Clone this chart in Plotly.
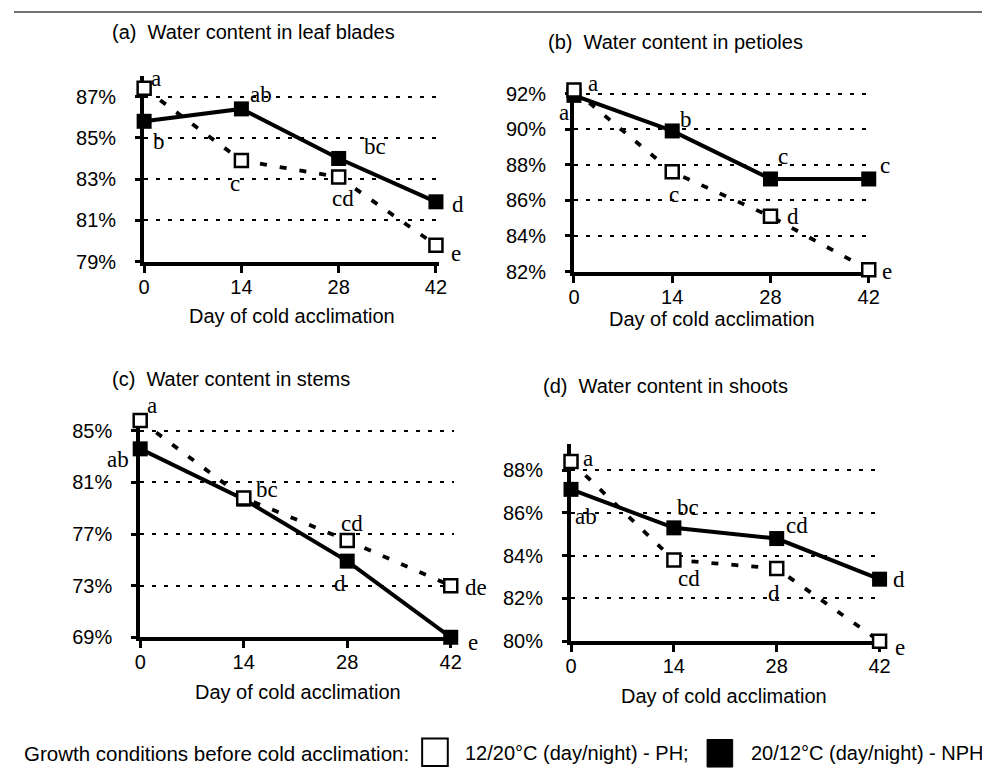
import plotly.graph_objects as go

# ---------------- data ----------------
days = [0, 14, 28, 42]
x_ticks = [0, 14, 28, 42]

titles = ["(a)  Water content in leaf blades", "(b)  Water content in petioles",
          "(c)  Water content in stems", "(d)  Water content in shoots"]
x_title = "Day of cold acclimation"

a_ph = [87.4, 83.9, 83.1, 79.8]
a_nph = [85.8, 86.4, 84.0, 81.9]
a_ph_letters = ["a", "c", "cd", "e"]
a_nph_letters = ["b", "ab", "bc", "d"]
a_ticks = [79, 81, 83, 85, 87]

b_ph = [92.2, 87.6, 85.1, 82.1]
b_nph = [91.9, 89.9, 87.2, 87.2]
b_ph_letters = ["a", "c", "d", "e"]
b_nph_letters = ["a", "b", "c", "c"]
b_ticks = [82, 84, 86, 88, 90, 92]

c_ph = [85.8, 79.8, 76.5, 73.0]
c_nph = [83.6, 79.7, 74.9, 69.0]
c_ph_letters = ["a", "bc", "cd", "de"]
c_nph_letters = ["ab", "", "d", "e"]
c_ticks = [69, 73, 77, 81, 85]

d_ph = [88.4, 83.8, 83.4, 80.0]
d_nph = [87.1, 85.3, 84.8, 82.9]
d_ph_letters = ["a", "cd", "d", "e"]
d_nph_letters = ["ab", "bc", "cd", "d"]
d_ticks = [80, 82, 84, 86, 88]

legend_title = "Growth conditions before cold acclimation:"
ph_name = "12/20°C (day/night) - PH;"
nph_name = "20/12°C (day/night) - NPH"

# ---------------- layout helpers ----------------
W, H = 990, 772
def fx(p): return p / W
def fy(p): return 1 - p / H

SANS = "Liberation Sans, Arial, sans-serif"
SERIF = "Liberation Serif, Times New Roman, serif"

panels = [
    dict(ph=a_ph, nph=a_nph, phl=a_ph_letters, nphl=a_nph_letters, ticks=a_ticks,
         x0=132, x42=428, yA=(79, 256), yB=(87, 88), yr=[79, 88],
         title_pos=(97, 22), xt_pos=(282, 311),
         ph_off=[(12, -10), (-6, 23), (4, 21), (20, 8)],
         nph_off=[(15, 20), (20, -14), (36, -12), (22, 3)]),
    dict(ph=b_ph, nph=b_nph, phl=b_ph_letters, nphl=b_nph_letters, ticks=b_ticks,
         x0=568, x42=867, yA=(82, 266), yB=(92, 85), yr=[82, 92.5],
         title_pos=(540, 33), xt_pos=(708, 314),
         ph_off=[(19, -7), (2, 23), (23, 0), (18, 2)],
         nph_off=[(-10, 17), (14, -11), (13, -22), (16, -13)]),
    dict(ph=c_ph, nph=c_nph, phl=c_ph_letters, nphl=c_nph_letters, ticks=c_ticks,
         x0=128, x42=443, yA=(69, 638), yB=(85, 428), yr=[69, 86.2],
         title_pos=(97, 375), xt_pos=(288, 694),
         ph_off=[(12, -15), (23, -8), (5, -17), (25, 2)],
         nph_off=[(-22, 11), (0, 0), (-7, 22), (22, 5)]),
    dict(ph=d_ph, nph=d_nph, phl=d_ph_letters, nphl=d_nph_letters, ticks=d_ticks,
         x0=565, x42=878, yA=(80, 642), yB=(88, 468), yr=[80, 89.2],
         title_pos=(535, 382), xt_pos=(720, 698),
         ph_off=[(17, -3), (15, 19), (-3, 25), (20, 6)],
         nph_off=[(15, 27), (14, -20), (20, -13), (19, 0)]),
]

XR = [0, 42.5]
fig = go.Figure()
annotations = []
layout_axes = {}

for i, p in enumerate(panels):
    k = "" if i == 0 else str(i + 1)
    xref, yref = "x" + k, "y" + k
    ppd = (p["x42"] - p["x0"]) / 42.0
    xd = [fx(p["x0"]), fx(p["x0"] + XR[1] * ppd)]
    (va, pa), (vb, pb) = p["yA"], p["yB"]
    ppv = (pa - pb) / (vb - va)
    ybot = pa + (va - p["yr"][0]) * ppv
    ytop = pa - (p["yr"][1] - va) * ppv
    yd = [fy(ybot), fy(ytop)]

    layout_axes["xaxis" + k] = dict(
        domain=xd, range=XR, anchor=yref, tickvals=x_ticks, ticktext=[str(t) for t in x_ticks],
        showline=True, linewidth=4, linecolor="black", showgrid=False, zeroline=False,
        ticks="outside", ticklen=7, tickwidth=3, tickcolor="black", ticklabelstandoff=-3,
        tickfont=dict(family=SANS, size=20, color="black"), layer="below traces")
    layout_axes["yaxis" + k] = dict(
        domain=yd, range=p["yr"], anchor=xref, tickvals=p["ticks"],
        ticktext=[f"{t}%" for t in p["ticks"]],
        showline=True, linewidth=4, linecolor="black", zeroline=False,
        showgrid=True, gridcolor="black", gridwidth=1.6, griddash="4px,8px",
        ticks="outside", ticklen=5, tickwidth=3, tickcolor="black", ticklabelstandoff=15,
        tickfont=dict(family=SANS, size=20, color="black"), layer="below traces")

    fig.add_trace(go.Scatter(
        x=days, y=p["nph"], xaxis=xref, yaxis=yref, mode="lines+markers", showlegend=False,
        line=dict(color="black", width=4),
        marker=dict(symbol="square", size=15, color="black"), cliponaxis=False))
    fig.add_trace(go.Scatter(
        x=days, y=p["ph"], xaxis=xref, yaxis=yref, mode="lines+markers", showlegend=False,
        line=dict(color="black", width=3.8, dash="7px,13px"),
        marker=dict(symbol="square", size=13, color="white", line=dict(color="black", width=2.5)),
        cliponaxis=False))

    for vals, letters, offs in ((p["ph"], p["phl"], p["ph_off"]), (p["nph"], p["nphl"], p["nph_off"])):
        for d, v, lab, (dx, dy) in zip(days, vals, letters, offs):
            if not lab:
                continue
            annotations.append(dict(
                x=d, y=v, xref=xref, yref=yref, text=lab, showarrow=False,
                xshift=dx, yshift=-dy, xanchor="center", yanchor="middle",
                font=dict(family=SERIF, size=23, color="black")))

    tx, ty = p["title_pos"]
    annotations.append(dict(x=fx(tx), y=fy(ty), xref="paper", yref="paper", text=titles[i],
                            showarrow=False, xanchor="left", yanchor="middle",
                            font=dict(family=SANS, size=20, color="black")))
    ax, ay = p["xt_pos"]
    annotations.append(dict(x=fx(ax), y=fy(ay), xref="paper", yref="paper", text=x_title,
                            showarrow=False, xanchor="center", yanchor="middle",
                            font=dict(family=SANS, size=20, color="black")))

# ---------------- legend row ----------------
LY = 756
annotations.append(dict(x=fx(8), y=fy(LY), xref="paper", yref="paper", text=legend_title,
                        showarrow=False, xanchor="left", yanchor="middle",
                        font=dict(family=SANS, size=20.5, color="black")))
annotations.append(dict(x=fx(455), y=fy(LY), xref="paper", yref="paper", text=ph_name,
                        showarrow=False, xanchor="left", yanchor="middle",
                        font=dict(family=SANS, size=20, color="black")))
annotations.append(dict(x=fx(986), y=fy(LY), xref="paper", yref="paper", text=nph_name,
                        showarrow=False, xanchor="right", yanchor="middle",
                        font=dict(family=SANS, size=20, color="black")))

shapes = [
    dict(type="rect", xref="paper", yref="paper", x0=fx(414), x1=fx(440), y0=fy(769), y1=fy(741),
         line=dict(color="black", width=2), fillcolor="white"),
    dict(type="rect", xref="paper", yref="paper", x0=fx(703), x1=fx(729), y0=fy(770), y1=fy(742),
         line=dict(color="black", width=1), fillcolor="black"),
    dict(type="line", xref="paper", yref="paper", x0=0, x1=1, y0=fy(2), y1=fy(2),
         line=dict(color="#444", width=1.5)),
]

fig.update_layout(
    width=W, height=H, margin=dict(l=0, r=0, t=0, b=0),
    paper_bgcolor="white", plot_bgcolor="white",
    annotations=annotations, shapes=shapes, showlegend=False,
    **layout_axes)

fig.write_html("out.html")
